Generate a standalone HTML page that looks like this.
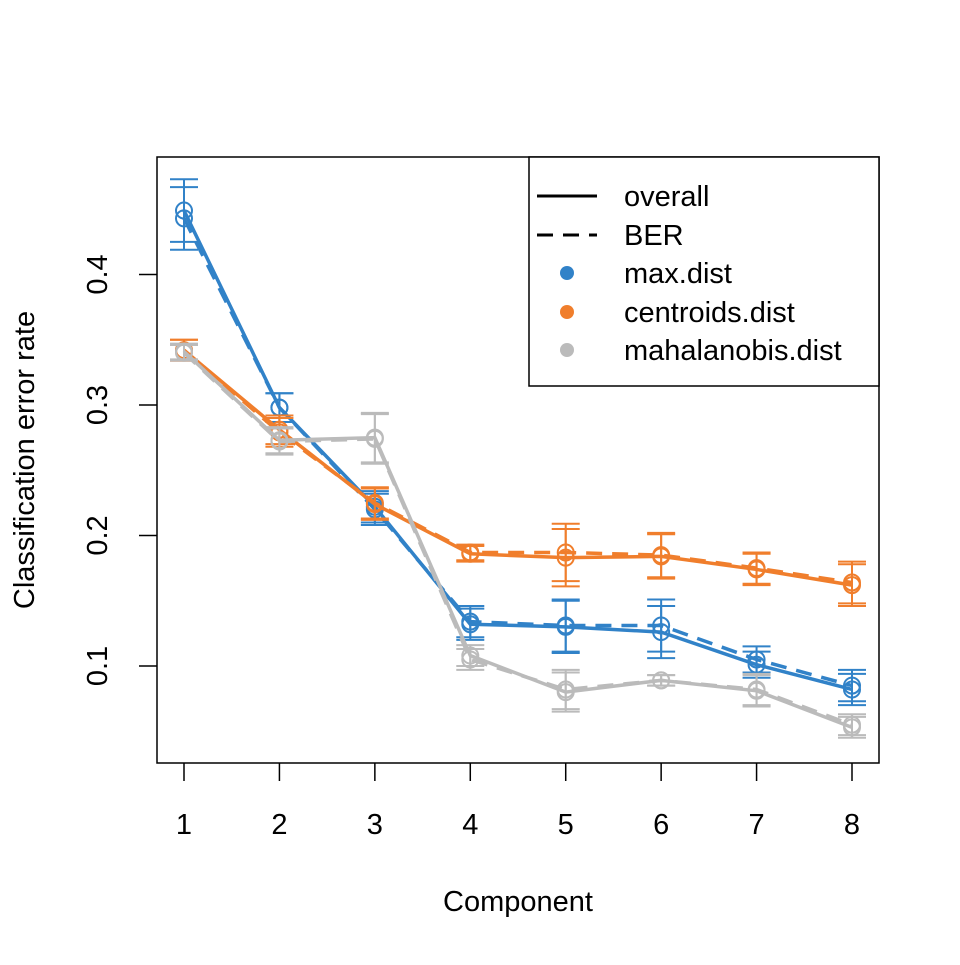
<!DOCTYPE html>
<html><head><meta charset="utf-8"><style>body{margin:0;background:#fff}svg text{font-family:"Liberation Sans",Arial,sans-serif;fill:#000}</style></head>
<body>
<svg id="chart" width="960" height="960" viewBox="0 0 960 960">
<rect x="157" y="157" width="722" height="606" fill="none" stroke="#000" stroke-width="1.5"/>
<g id="axes"></g>
<g id="series"></g>
<text x="518" y="911" font-size="29" text-anchor="middle">Component</text>
<text transform="translate(34,460) rotate(-90)" font-size="29" text-anchor="middle">Classification error rate</text>
<g>
<rect x="529" y="157" width="350" height="229" fill="#fff" stroke="#000" stroke-width="1.5"/>
<line x1="537" y1="196" x2="597" y2="196" stroke="#000" stroke-width="3"/>
<text x="624" y="206" font-size="29">overall</text>
<line x1="537" y1="235" x2="597" y2="235" stroke="#000" stroke-width="3" stroke-dasharray="16,10"/>
<text x="624" y="245" font-size="29">BER</text>
<circle cx="567" cy="273" r="7" fill="#3182C8"/>
<text x="624" y="283" font-size="29">max.dist</text>
<circle cx="567" cy="312" r="7" fill="#F07E2C"/>
<text x="624" y="322" font-size="29">centroids.dist</text>
<circle cx="567" cy="350" r="7" fill="#BBBBBB"/>
<text x="624" y="360" font-size="29">mahalanobis.dist</text>
</g>
</svg>
<script>
const components = [1,2,3,4,5,6,7,8];
const yTicks = [0.1,0.2,0.3,0.4];
const seriesNames = ["max.dist","centroids.dist","mahalanobis.dist"];
const seriesColors = ["#3182C8","#F07E2C","#BBBBBB"];
const maxOverall = [0.449,0.298,0.222,0.132,0.130,0.126,0.101,0.082];
const maxBER = [0.443,0.298,0.220,0.134,0.131,0.131,0.105,0.085];
const maxSd = [0.024,0.011,0.012,0.012,0.020,0.020,0.010,0.012];
const cenOverall = [0.342,0.281,0.224,0.186,0.183,0.184,0.174,0.162];
const cenBER = [0.342,0.279,0.225,0.187,0.187,0.185,0.175,0.164];
const cenSd = [0.008,0.011,0.012,0.006,0.022,0.017,0.012,0.016];
const mahOverall = [0.341,0.273,0.275,0.108,0.080,0.089,0.081,0.053];
const mahBER = [0.340,0.272,0.274,0.105,0.082,0.089,0.082,0.055];
const mahSd = [0.006,0.010,0.019,0.008,0.015,0.004,0.012,0.008];

const NS="http://www.w3.org/2000/svg";
function xs(c){return 184+(c-1)*(852-184)/7;}
function ys(v){return 666-(v-0.1)*1305;}
function mk(tag,attrs,parent){const e=document.createElementNS(NS,tag);for(const k in attrs)e.setAttribute(k,attrs[k]);parent.appendChild(e);return e;}
const axes=document.getElementById('axes');
components.forEach(c=>{
  const t=mk('line',{x1:xs(c),x2:xs(c),y1:763,y2:781,stroke:'#000','stroke-width':1.5},axes);
  
  
  const l=mk('text',{x:xs(c),y:834,'font-size':29,'text-anchor':'middle'},axes);
  l.textContent=c;
  
  
});
yTicks.forEach(v=>{
  const t=mk('line',{x1:139,x2:157,y1:ys(v),y2:ys(v),stroke:'#000','stroke-width':1.5},axes);
  
  
  const l=mk('text',{transform:`translate(107,${ys(v)}) rotate(-90)`,'font-size':29,'text-anchor':'middle'},axes);
  l.textContent=v.toFixed(1);
  
  
});
const ser=document.getElementById('series');
const data=[[maxOverall,maxBER,maxSd],[cenOverall,cenBER,cenSd],[mahOverall,mahBER,mahSd]];
data.forEach((d,i)=>{
  const col=seriesColors[i];
  const g=mk('g',{},ser);
  
  
  [d[0],d[1]].forEach((vals,j)=>{
    vals.forEach((v,k)=>{
      const x=xs(components[k]),sd=d[2][k];
      const e=mk('path',{d:`M${x},${ys(v-sd)}V${ys(v+sd)}M${x-14},${ys(v-sd)}h28M${x-14},${ys(v+sd)}h28`,stroke:col,'stroke-width':2,fill:'none'},g);
      
      
    });
    const p=mk('polyline',{points:vals.map((v,k)=>xs(components[k])+','+ys(v)).join(' '),fill:'none',stroke:col,'stroke-width':3.5},g);
    if(j===1)p.setAttribute('stroke-dasharray','16,10');
    
    
    vals.forEach((v,k)=>{
      const c=mk('circle',{cx:xs(components[k]),cy:ys(v),r:8,fill:'none',stroke:col,'stroke-width':2},g);
      
      
    });
  });
});
</script>
</body></html>
